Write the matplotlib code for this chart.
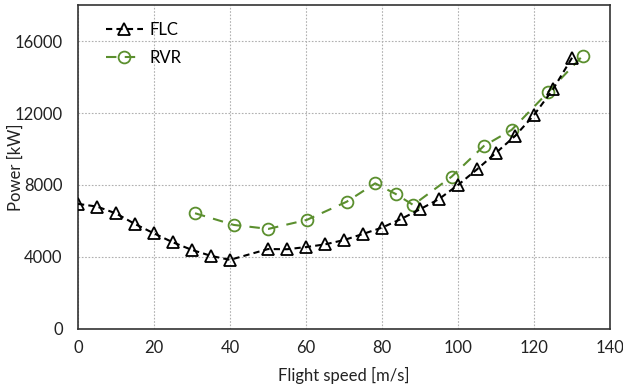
import matplotlib
matplotlib.use('Agg')
import matplotlib.pyplot as plt

plt.rcParams['font.family'] = ['Lato', 'DejaVu Sans']

# FLC
flc_speed = [0, 5, 10, 15, 20, 25, 30, 35, 40, 50, 55, 60, 65, 70, 75, 80,
             85, 90, 95, 100, 105, 110, 115, 120, 125, 130]
flc_power = [6950, 6800, 6420, 5830, 5310, 4810, 4390, 4060, 3840, 4440, 4430, 4550,
             4700, 4940, 5280, 5630, 6110, 6650, 7220, 8000, 8870, 9790, 10720, 11890,
             13320, 15070]

# RVR
rvr_speed = [30.8, 41.0, 50.1, 60.2, 70.7, 78.2, 83.6, 88.2, 98.3, 106.8, 114.1, 123.8, 132.8]
rvr_power = [6430, 5780, 5560, 6060, 7070, 8090, 7500, 6890, 8460, 10170, 11060, 13180, 15180]

green = '#5B8F2E'

fig = plt.figure(figsize=(6.23, 3.87), dpi=100)
ax = fig.add_axes([0.1252, 0.150, 0.854, 0.837])

ax.plot(flc_speed, flc_power, color='black', linestyle=(0, (3, 2)), linewidth=1.5,
        marker='^', markersize=9, markerfacecolor='none', markeredgecolor='black',
        markeredgewidth=1.3, label='FLC', zorder=3)
ax.plot(rvr_speed, rvr_power, color=green, linestyle=(0, (5, 4)), linewidth=1.5,
        marker='o', markersize=8.5, markerfacecolor='none', markeredgecolor=green,
        markeredgewidth=1.3, label='RVR', zorder=2)

ax.set_xlim(0, 140)
ax.set_ylim(0, 18000)
ax.set_xticks(range(0, 141, 20))
ax.set_yticks(range(0, 16001, 4000))
ax.grid(True, color='#b0b0b0', linestyle=(0, (1.5, 1.5)), linewidth=0.8)
ax.set_axisbelow(True)
ax.tick_params(length=0, labelsize=12, colors='#222222')
ax.tick_params(axis='y', pad=11)
ax.tick_params(axis='x', pad=8)
for s in ax.spines.values():
    s.set_color('#333333')
    s.set_linewidth(1.2)

ax.set_xlabel('Flight speed [m/s]', fontsize=12, color='#222222', labelpad=8)
ax.set_ylabel('Power [kW]', fontsize=12, color='#222222')
ax.yaxis.set_label_coords(-0.1015, 0.5)

ax.legend(loc='upper left', frameon=False, fontsize=12, handlelength=2.2,
          handletextpad=0.4, borderaxespad=0.6, labelspacing=0.75,
          bbox_to_anchor=(0.021, 1.0))

fig.savefig('out.png', dpi=100)
